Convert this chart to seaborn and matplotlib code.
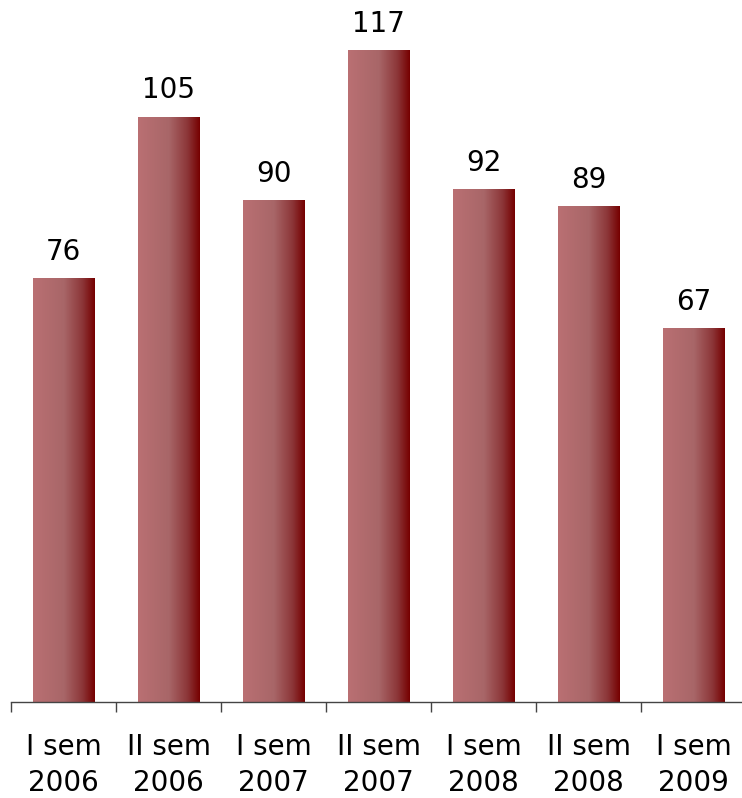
import matplotlib
matplotlib.use("Agg")
import matplotlib.pyplot as plt
import seaborn as sns
import numpy as np
import pandas as pd
from matplotlib.colors import LinearSegmentedColormap

# data
periods = ["I sem\n2006", "II sem\n2006", "I sem\n2007", "II sem\n2007",
           "I sem\n2008", "II sem\n2008", "I sem\n2009"]
counts = [76, 105, 90, 117, 92, 89, 67]

df = pd.DataFrame({"period": periods, "count": counts})

sns.set_style("white")
plt.rcParams['font.family'] = ['DejaVu Sans']

fig = plt.figure(figsize=(7.42, 7.98), dpi=100)
ax = fig.add_axes([11 / 742, 96 / 798, 735 / 742, 702 / 798])

sns.barplot(data=df, x="period", y="count", color="#A05A5E", width=0.59, ax=ax)

# horizontal gradient fill on each bar
grad_cmap = LinearSegmentedColormap.from_list(
    "bar_grad", [(0.0, "#BA7073"), (0.5, "#A86668"), (0.8, "#8C3638"), (1.0, "#760000")])
grad = np.linspace(0, 1, 256).reshape(1, -1)
for p in ax.patches:
    x0, y0 = p.get_x(), p.get_y()
    w, h = p.get_width(), p.get_height()
    p.set_facecolor("none")
    p.set_edgecolor("none")
    ax.imshow(grad, cmap=grad_cmap, aspect="auto",
              extent=[x0, x0 + w, y0, y0 + h], zorder=2)
    ax.annotate(f"{int(round(h))}", (x0 + w / 2, y0 + h), xytext=(0, 9),
                textcoords="offset points", ha="center", va="bottom",
                fontsize=20, color="black")

ax.set_xlim(-0.5, 6.5)
ax.set_ylim(0, 126)
ax.set_xlabel("")
ax.set_ylabel("")
ax.set_yticks([])
for side in ["top", "right", "left"]:
    ax.spines[side].set_visible(False)
ax.spines["bottom"].set_color("#444444")
ax.spines["bottom"].set_linewidth(1.0)

ax.set_xticks(range(len(periods)))
ax.set_xticklabels(periods, fontsize=20, linespacing=1.4, color="black")
ax.set_xticks(np.arange(-0.5, 7, 1), minor=True)
ax.tick_params(axis="x", which="major", bottom=True, length=0, pad=22)
ax.tick_params(axis="x", which="minor", bottom=True, length=7, width=1,
               color="#444444", direction="out")

fig.savefig("out.png", dpi=100)
